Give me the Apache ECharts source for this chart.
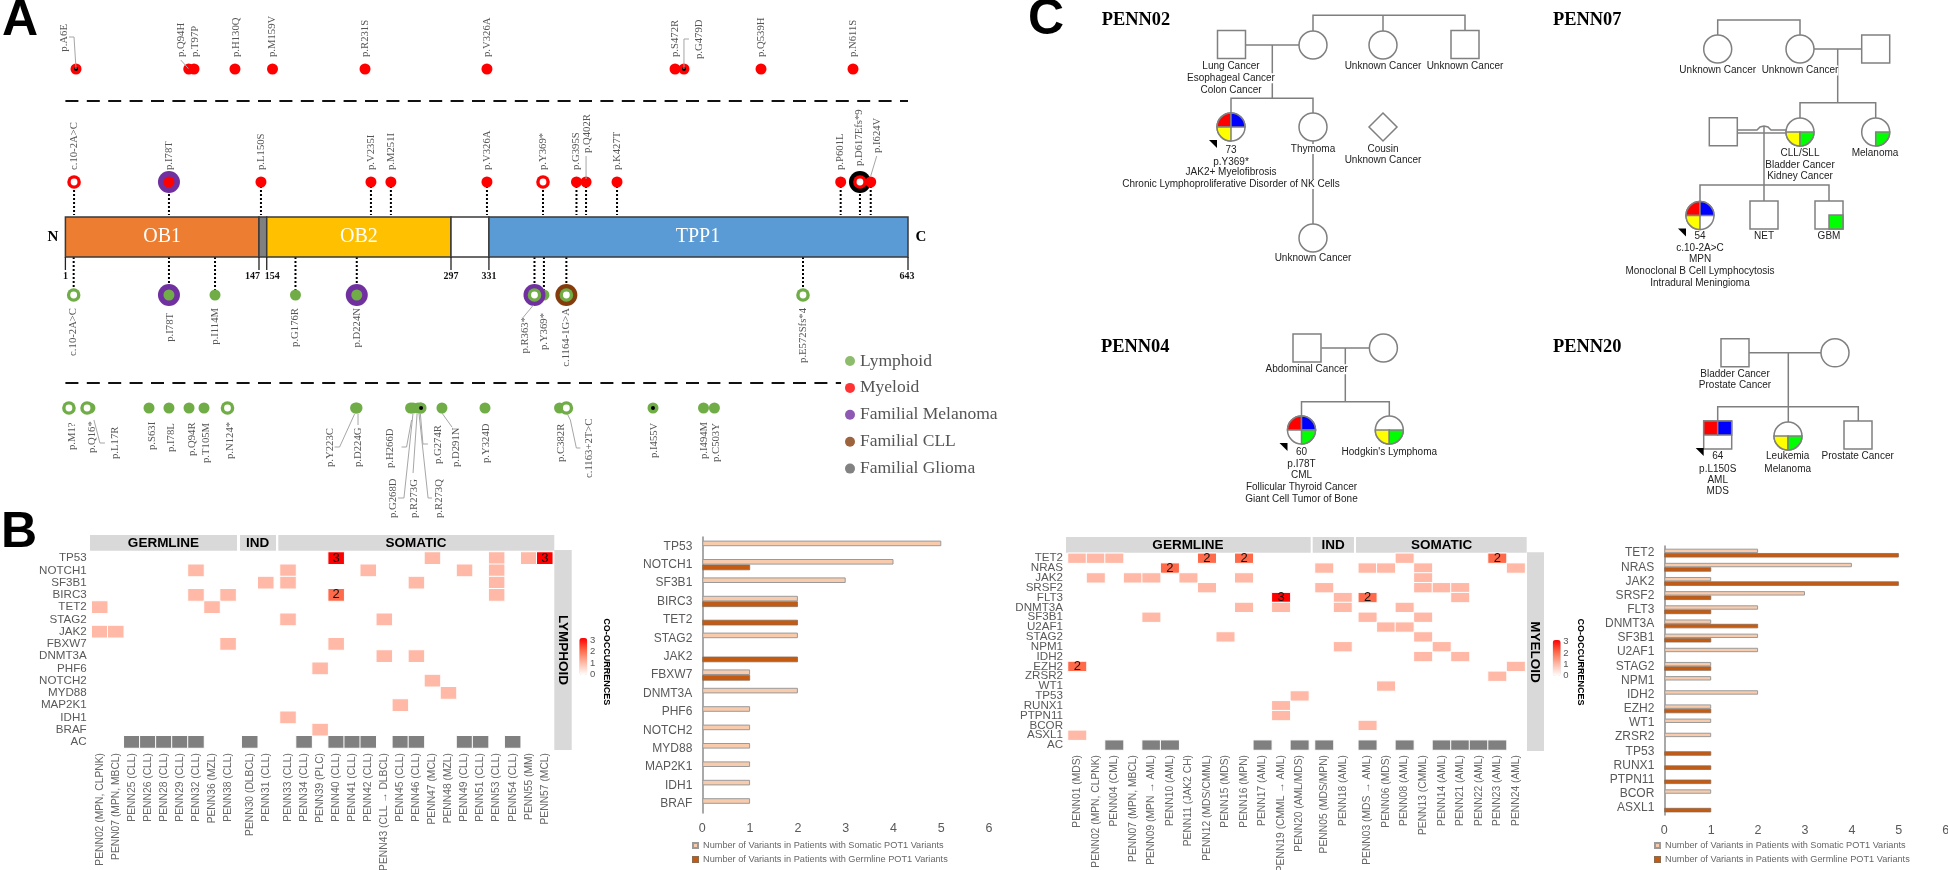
<!DOCTYPE html>
<html>
<head>
<meta charset="utf-8">
<style>html,body{margin:0;padding:0;background:#fff}#c{width:1948px;height:870px}</style>
<script src="https://cdn.jsdelivr.net/npm/echarts@6/dist/echarts.min.js"></script>
</head>
<body>
<div id="c"></div>
<script>
/* ---------- Panel A: variants along POT1 (positions, axis 1-643) ---------- */
const variantRows = ['Myeloid somatic', 'Myeloid germline', 'Lymphoid germline', 'Lymphoid somatic'];

const myeloidSomaticNames = ['p.A6E','p.Q94H','p.T97P','p.H130Q','p.M159V','p.R231S','p.V326A','p.S472R','p.G479D','p.Q539H','p.N611S'];
const myeloidSomaticPositions = [9.1,95,99,130.2,158.8,229.3,322.2,465.5,472.3,531,601.1];
const myeloidSomaticKinds = ['core','solid','solid','solid','solid','solid','solid','solid','core','solid','solid'];
const myeloidSomaticHalos = [null,null,null,null,null,null,null,null,null,null,null];

const myeloidGermlineNames = ['c.10-2A>C','p.I78T','p.L150S','p.V235I','p.M251I','p.V326A','p.Y369*','p.G395S','p.Q402R','p.K427T','p.P601L','p.D617Efs*9','p.I624V'];
const myeloidGermlinePositions = [7.6,79.9,150,233.8,249,322.2,364.9,390.4,397.7,421.3,591.7,606.4,614.6];
const myeloidGermlineKinds = ['open','solid','solid','solid','solid','solid','open','solid','solid','solid','solid','open','solid'];
const myeloidGermlineHalos = [null,'melanoma',null,null,null,null,null,null,null,null,null,'black',null];

const lymphoidGermlineNames = ['c.10-2A>C','p.I78T','p.I114M','p.G176R','p.D224N','p.Y369*','p.R363*','c.1164-1G>A','p.E572Sfs*4'];
const lymphoidGermlinePositions = [7.3,79.9,115,176.3,223,365.6,358.4,382.7,563];
const lymphoidGermlineKinds = ['open','solid','solid','solid','solid','solid','open','open','open'];
const lymphoidGermlineHalos = [null,'melanoma',null,null,'melanoma',null,'melanoma','cll',null];

const lymphoidSomaticNames = ['p.M1?','p.L17R','p.Q16*','p.S63I','p.I78L','p.Q94R','p.T105M','p.N124*','p.Y223C','p.D224G','p.H266D','p.G268D','p.R273G','p.G274R','p.R273Q','p.D291N','p.Y324D','p.C382R','c.1163+2T>C','p.I455V','p.I494M','p.C503Y'];
const lymphoidSomaticPositions = [3.7,19.7,17.5,64.7,79.9,95.2,106.6,124.5,222.1,223.2,264,265.8,269.7,271.5,272,287.9,320.7,377.5,382.7,448.7,487.2,495.5];
const lymphoidSomaticKinds = ['open','solid','open','solid','solid','solid','solid','open','solid','solid','solid','solid','solid','solid','core','solid','solid','solid','open','core','solid','solid'];
const lymphoidSomaticHalos = lymphoidSomaticNames.map(() => null);

const domainNames = ['OB1','','OB2','','TPP1'];
const domainStarts = [1,148.5,154.4,294.8,323.7];
const domainEnds = [148.5,154.4,294.8,323.7,643];
const domainColors = ['#ED7D31','#808080','#FFC000','#FFFFFF','#5B9BD5'];
const domainTickLabels = ['1','147','154','297','331','643'];
const domainTickPositions = [1,148.5,154.4,294.8,323.7,643];
const variantLegendNames = ['Lymphoid','Myeloid','Familial Melanoma','Familial CLL','Familial Glioma'];
const variantLegendColors = ['#70AD47','#FF0000','#7030A0','#843C0C','#636363'];

/* ---------- Panel B: lymphoid heat map ---------- */
const lymphoidGenes = ['TP53','NOTCH1','SF3B1','BIRC3','TET2','STAG2','JAK2','FBXW7','DNMT3A','PHF6','NOTCH2','MYD88','MAP2K1','IDH1','BRAF','AC'];
const lymphoidGermlineSamples = ['PENN02 (MPN, CLPNK)','PENN07 (MPN, MBCL)','PENN25 (CLL)','PENN26 (CLL)','PENN28 (CLL)','PENN29 (CLL)','PENN32 (CLL)','PENN36 (MZL)','PENN38 (CLL)'];
const lymphoidIndSamples = ['PENN30 (DLBCL)','PENN31 (CLL)'];
const lymphoidSomaticSamples = ['PENN33 (CLL)','PENN34 (CLL)','PENN39 (PLC)','PENN40 (CLL)','PENN41 (CLL)','PENN42 (CLL)','PENN43 (CLL \u2192 DLBCL)','PENN45 (CLL)','PENN46 (CLL)','PENN47 (MCL)','PENN48 (MZL)','PENN49 (CLL)','PENN51 (CLL)','PENN53 (CLL)','PENN54 (CLL)','PENN55 (MM)','PENN57 (MCL)'];
const lymphoidGermlineCells = [[6,1,1],[6,3,1],[8,3,1],[0,4,1],[7,4,1],[0,6,1],[1,6,1],[8,7,1]];
const lymphoidIndCells = [[1,2,1]];
const lymphoidSomaticCells = [[3,0,3],[9,0,1],[13,0,1],[15,0,1],[16,0,3],[0,1,1],[5,1,1],[11,1,1],[13,1,1],[0,2,1],[8,2,1],[13,2,1],[3,3,2],[13,3,1],[0,5,1],[6,5,1],[3,7,1],[6,8,1],[8,8,1],[2,9,1],[9,10,1],[10,11,1],[7,12,1],[0,13,1],[2,14,1]];
const lymphoidGermlineAC = [2,3,4,5,6];
const lymphoidIndAC = [0];
const lymphoidSomaticAC = [1,3,4,5,7,8,11,12,14];

/* ---------- Panel B: lymphoid bars ---------- */
const lymphoidBarGenes = ['TP53','NOTCH1','SF3B1','BIRC3','TET2','STAG2','JAK2','FBXW7','DNMT3A','PHF6','NOTCH2','MYD88','MAP2K1','IDH1','BRAF'];
const lymphoidBarSomatic = [5,4,3,2,null,2,null,1,2,1,1,1,1,1,1];
const lymphoidBarGermline = [null,1,null,2,2,null,2,1,null,null,null,null,null,null,null];

/* ---------- Panel B: myeloid heat map ---------- */
const myeloidGenes = ['TET2','NRAS','JAK2','SRSF2','FLT3','DNMT3A','SF3B1','U2AF1','STAG2','NPM1','IDH2','EZH2','ZRSR2','WT1','TP53','RUNX1','PTPN11','BCOR','ASXL1','AC'];
const myeloidGermlineSamples = ['PENN01 (MDS)','PENN02 (MPN, CLPNK)','PENN04 (CML)','PENN07 (MPN, MBCL)','PENN09 (MPN \u2192 AML)','PENN10 (AML)','PENN11 (JAK2 CH)','PENN12 (MDS/CMML)','PENN15 (MDS)','PENN16 (MPN)','PENN17 (AML)','PENN19 (CMML \u2192 AML)','PENN20 (AML/MDS)'];
const myeloidIndSamples = ['PENN05 (MDS/MPN)','PENN18 (AML)'];
const myeloidSomaticSamples = ['PENN03 (MDS \u2192 AML)','PENN06 (MDS)','PENN08 (AML)','PENN13 (CMML)','PENN14 (AML)','PENN21 (AML)','PENN22 (AML)','PENN23 (AML)','PENN24 (AML)'];
const myeloidGermlineCells = [[0,0,1],[1,0,1],[2,0,1],[7,0,2],[9,0,2],[5,1,2],[1,2,1],[3,2,1],[4,2,1],[6,2,1],[9,2,1],[7,3,1],[11,4,3],[9,5,1],[11,5,1],[4,6,1],[8,8,1],[0,11,2],[12,14,1],[11,15,1],[11,16,1],[0,18,1]];
const myeloidIndCells = [[0,1,1],[0,3,1],[1,4,1],[1,5,1],[1,9,1]];
const myeloidSomaticCells = [[2,0,1],[7,0,2],[0,1,1],[1,1,1],[3,1,1],[8,1,1],[3,2,1],[3,3,1],[4,3,1],[5,3,1],[0,4,2],[5,4,1],[2,5,1],[0,6,1],[3,6,1],[1,7,1],[2,7,1],[3,8,1],[4,9,1],[3,10,1],[5,10,1],[8,11,1],[7,12,1],[1,13,1],[0,17,1]];
const myeloidGermlineAC = [2,4,5,10,12];
const myeloidIndAC = [0];
const myeloidSomaticAC = [0,2,4,5,6,7];

/* ---------- Panel B: myeloid bars ---------- */
const myeloidBarGenes = ['TET2','NRAS','JAK2','SRSF2','FLT3','DNMT3A','SF3B1','U2AF1','STAG2','NPM1','IDH2','EZH2','WT1','ZRSR2','TP53','RUNX1','PTPN11','BCOR','ASXL1'];
const myeloidBarSomatic = [2,4,1,3,2,1,2,2,1,1,2,1,1,1,null,null,null,1,null];
const myeloidBarGermline = [5,1,5,1,1,2,1,null,1,null,null,1,null,null,1,1,1,null,1];
const barSomaticName = 'Number of Variants in Patients with Somatic POT1 Variants';
const barGermlineName = 'Number of Variants in Patients with Germline POT1 Variants';

/* ---------- Panel C: pedigrees, on a drawing plane ---------- */
const pedigreeTitles = ['PENN02','PENN07','PENN04','PENN20'];
const pedigreeLinks = [
 [[1245,45],[1299,45]],[[1313,31],[1313,15.3],[1465,15.3],[1465,31]],[[1383,15.3],[1383,31]],[[1272.3,45],[1272.3,98.3]],[[1231,113],[1231,98.3],[1313,98.3],[1313,113]],[[1313,141],[1313,224]],
 [[1717.7,35],[1717.7,20],[1800,20],[1800,35]],[[1814,48.9],[1861.7,48.9]],[[1837.7,48.9],[1837.7,102.8]],[[1800,118],[1800,102.8],[1875.7,102.8],[1875.7,118]],
 [[1737.3,130],[1757,130],[1760,127],[1764,126],[1768,127],[1771,130],[1786,130]],[[1737.3,133],[1786,133]],[[1764,126],[1764,201]],[[1700,201],[1700,185],[1829,185],[1829,201]],
 [[1321.4,348],[1369.4,348]],[[1345.3,348],[1345.3,401.7]],[[1301.5,416],[1301.5,401.7],[1389.3,401.7],[1389.3,416]],
 [[1749,352.8],[1821,352.8]],[[1788.3,352.8],[1788.3,422]],[[1717.7,421],[1717.7,406.7],[1858.3,406.7],[1858.3,421]]
];
const pedigreeNodes = [
 [1231.5,44.5,'s',''],[1313,45,'c',''],[1383,45,'c',''],[1465,44.5,'s',''],[1231,127,'c','RBY-','p'],[1313,127,'c',''],[1383,127,'d',''],[1313,238,'c',''],
 [1717.7,49,'c',''],[1800,49,'c',''],[1875.7,49,'s',''],[1723.3,131.7,'s',''],[1800,132,'c','--YG'],[1875.7,132,'c','---G'],[1700,215.5,'c','RBY-','p'],[1764,215,'s',''],[1829,215,'s','---G'],
 [1307,348,'s',''],[1383.4,348,'c',''],[1301.5,430,'c','RB-G','p'],[1389.3,430,'c','--YG'],
 [1735,352.8,'s',''],[1835,352.8,'c',''],[1717.7,435,'s','RB--','p'],[1788,436,'c','--YG'],[1858,435,'s','']
];
const pedigreeLabels = [
 [1231,66.7,'Lung Cancer'],[1231,78.3,'Esophageal Cancer'],[1231,90,'Colon Cancer'],[1383,66.7,'Unknown Cancer'],[1465,66.7,'Unknown Cancer'],
 [1231,150,'73'],[1231,162,'p.Y369*'],[1231,172.7,'JAK2+ Myelofibrosis'],[1231,184,'Chronic Lymphoproliferative Disorder of NK Cells'],[1313,149,'Thymoma'],[1383,149,'Cousin'],[1383,160.7,'Unknown Cancer'],[1313,258,'Unknown Cancer'],
 [1717.7,70.5,'Unknown Cancer'],[1800,70.5,'Unknown Cancer'],[1800,153.3,'CLL/SLL'],[1800,165,'Bladder Cancer'],[1800,176.7,'Kidney Cancer'],[1875,153.3,'Melanoma'],
 [1700,236,'54'],[1700,247.8,'c.10-2A>C'],[1700,259.4,'MPN'],[1700,271,'Monoclonal B Cell Lymphocytosis'],[1700,282.8,'Intradural Meningioma'],[1764,236,'NET'],[1829,236,'GBM'],
 [1306.7,369.3,'Abdominal Cancer'],[1301.5,452.3,'60'],[1301.5,464,'p.I78T'],[1301.5,475.7,'CML'],[1301.5,487.3,'Follicular Thyroid Cancer'],[1301.5,499,'Giant Cell Tumor of Bone'],[1389.3,452.3,"Hodgkin's Lymphoma"],
 [1735,374,'Bladder Cancer'],[1735,385.6,'Prostate Cancer'],[1717.7,456.7,'64'],[1717.7,469,'p.L150S'],[1717.7,480.6,'AML'],[1717.7,491.7,'MDS'],[1787.7,456.7,'Leukemia'],[1787.7,469,'Melanoma'],[1857.7,456.7,'Prostate Cancer']
];

/* ---------- Layout and style, kept apart from the data ---------- */
const SERIF = '"Liberation Serif"', SANS = '"Liberation Sans"';
const haloColors = {melanoma:'#7030A0', cll:'#843C0C', black:'#000000'};
const quadColors = {R:'#FF0000', B:'#0000FF', Y:'#FFFF00', G:'#00FF00'};
// label placement relative to the dot: [dx, dy, leader points]
const nudgeRow0 = {0:[-12,-17.3,[[0,0],[-2,-32],[-7,-32]]],1:[-8,-12,[[0,0],[-8,-9]]],2:[1,-12],3:[1,-12],8:[15,-10,[[0,0],[0,-30],[5,-30]]]};
const nudgeRow1 = {8:[1,-29,[[0,-3],[0,-26]]],11:[-1,-16],12:[6,-29,[[0,-6],[6,-26]]]};
const nudgeRow2 = {1:[1,18],5:[0,18],6:[-9.5,22,[[-1,10],[-11,22]]]};
const nudgeRow3 = {0:[3,42],1:[25,51,[[4,12],[10,35],[15,35]]],2:[5,45],3:[3,42],4:[2,44],5:[3,48],6:[2,55],7:[2.5,51],
 8:[-25.6,59,[[-1,6],[-16,39],[-21,39]]],9:[1,59,[[1,6],[1,17]]],10:[-20,60,[[1,12],[-4,39],[-9,39]]],11:[-20,110,[[0,6],[-9,90],[-15,90]]],
 12:[-3.5,110,[[-1,6],[-5,65]]],13:[17.5,56,[[0,6],[2.5,36],[7.5,36]]],14:[18.5,110,[[-2,6],[7,90],[11,90]]],15:[14.7,59,[[0,5],[10,19]]],16:[1.7,55],
 17:[2,54],18:[22.6,70,[[1,6],[4,12],[10,40],[14,40]]],19:[1,50],20:[.5,51],21:[1.6,54]};

const series = [], grid = [], xAxis = [], yAxis = [], visualMap = [];
const gridBox = (o) => ({...o, containLabel:false, outerBoundsMode:'none'});

/* lollipop grid */
grid.push(gridBox({left:65.4, width:842.6, top:12.5, height:452}));
xAxis.push({type:'value', min:1, max:643, show:false});
yAxis.push({type:'category', data:variantRows, inverse:true, show:false});

function variantSeries(row, names, positions, kinds, halos, nudge, colour, stem, dyDefault, align) {
  return {
    type:'custom', name:variantRows[row], coordinateSystem:'cartesian2d', xAxisIndex:0, yAxisIndex:0, silent:true, clip:false,
    data:positions.map((p) => [p]),
    renderItem(params, api) {
      const i = params.dataIndex, c = api.coord([api.value(0), row]), kids = [];
      if (stem) kids.push({type:'line', shape:{x1:c[0],y1:c[1],x2:c[0],y2:c[1]+stem}, style:{stroke:'#000',lineWidth:2,lineDash:[2,2]}});
      if (halos[i]) kids.push({type:'circle', shape:{cx:c[0],cy:c[1],r:11}, style:{fill:haloColors[halos[i]]}});
      const open = kinds[i] === 'open';
      kids.push({type:'circle', shape:{cx:c[0],cy:c[1],r:open?6.8:5.5}, style:{fill:colour}});
      if (open) kids.push({type:'circle', shape:{cx:c[0],cy:c[1],r:3.4}, style:{fill:'#fff'}});
      if (kinds[i] === 'core') kids.push({type:'circle', shape:{cx:c[0],cy:c[1],r:2}, style:{fill:'#000'}});
      const n = nudge[i] || [0, dyDefault];
      if (n[2]) kids.push({type:'polyline', shape:{points:n[2].map((q) => [c[0]+q[0], c[1]+q[1]])}, style:{stroke:'#A6A6A6',lineWidth:1,fill:null}});
      kids.push({type:'text', x:c[0]+n[0], y:c[1]+n[1], rotation:Math.PI/2,
        style:{text:names[i], align:align, verticalAlign:'middle', fill:'#555', font:'10.7px '+SERIF}});
      return {type:'group', children:kids};
    }
  };
}
series.push(variantSeries(0,myeloidSomaticNames,myeloidSomaticPositions,myeloidSomaticKinds,myeloidSomaticHalos,nudgeRow0,'#FF0000',0,-12,'left'));
series.push(variantSeries(1,myeloidGermlineNames,myeloidGermlinePositions,myeloidGermlineKinds,myeloidGermlineHalos,nudgeRow1,'#FF0000',33,-12,'left'));
series.push(variantSeries(2,lymphoidGermlineNames,lymphoidGermlinePositions,lymphoidGermlineKinds,lymphoidGermlineHalos,nudgeRow2,'#70AD47',-38,13,'right'));
series.push(variantSeries(3,lymphoidSomaticNames,lymphoidSomaticPositions,lymphoidSomaticKinds,lymphoidSomaticHalos,nudgeRow3,'#70AD47',0,42,'left'));

/* protein bar */
series.push({type:'custom', xAxisIndex:0, yAxisIndex:0, silent:true, clip:false, data:domainStarts.map((s,i)=>[s,domainEnds[i]]),
  renderItem(params, api) {
    const i = params.dataIndex, a = api.coord([api.value(0),1]), b = api.coord([api.value(1),1]);
    const top = a[1]+35, h = 40, kids = [{type:'rect', shape:{x:a[0],y:top,width:b[0]-a[0],height:h}, style:{fill:domainColors[i],stroke:'#3A3A3A',lineWidth:1.5}}];
    if (domainNames[i]) kids.push({type:'text', x:(i===4? a[0]+209 : (a[0]+b[0])/2), y:top+20, style:{text:domainNames[i],align:'center',verticalAlign:'middle',fill:'#fff',font:'20px '+SERIF}});
    return {type:'group', children:kids};
  }});
/* protein ticks */
const tickLabelShift = [0,-6.5,5.5,0,0,-1];
series.push({type:'custom', xAxisIndex:0, yAxisIndex:0, silent:true, clip:false, data:domainTickPositions.map((p)=>[p]),
  renderItem(params, api) {
    const i = params.dataIndex, a = api.coord([api.value(0),1]), y = a[1]+75;
    return {type:'group', children:[
      {type:'line', shape:{x1:a[0],y1:y,x2:a[0],y2:y+13}, style:{stroke:'#222',lineWidth:1.3}},
      {type:'text', x:a[0]+tickLabelShift[i], y:y+19, style:{text:domainTickLabels[i],align:'center',verticalAlign:'middle',fill:'#111',font:'bold 10px '+SERIF}}
    ]};
  }});
/* dashed separators, anchored on the outer rows */
series.push({type:'custom', xAxisIndex:0, yAxisIndex:0, silent:true, clip:false, data:[[1,0,32,643],[1,3,-25,592]],
  renderItem(params, api) {
    const a = api.coord([1, api.value(1)]), b = api.coord([api.value(3), api.value(1)]), y = a[1]+api.value(2);
    return {type:'line', shape:{x1:a[0],y1:y,x2:b[0],y2:y}, style:{stroke:'#111',lineWidth:2.2,lineDash:[13,8.4]}};
  }});
/* legend entries for panel A */
variantLegendNames.forEach((n,i)=>series.push({type:'scatter', name:n, xAxisIndex:0, yAxisIndex:0, data:[], itemStyle:{color:variantLegendColors[i]}}));

/* heat maps */
function heatGroup(genes, samples, cells, ac, left, width, top, height, showGenes, indices) {
  const g = grid.length;
  grid.push(gridBox({left, width, top, height}));
  xAxis.push({type:'category', gridIndex:g, data:samples, position:'bottom', axisLine:{show:false}, axisTick:{show:false}, splitLine:{show:false},
    axisLabel:{interval:0, rotate:90, margin:5, fontSize:10.3, color:'#666', fontFamily:SANS}});
  yAxis.push({type:'category', gridIndex:g, data:genes, inverse:true, axisLine:{show:false}, axisTick:{show:false}, splitLine:{show:false},
    axisLabel:{show:showGenes, interval:0, margin:5, fontSize:11.6, color:'#595959', fontFamily:SANS}});
  indices.push(series.length);
  series.push({type:'heatmap', xAxisIndex:g, yAxisIndex:g, silent:true, data:cells, itemStyle:{borderColor:'#fff',borderWidth:1},
    label:{show:true, fontFamily:SANS, fontSize:13, color:'#111', formatter:(p)=>p.value[2]>=2?String(p.value[2]):''}});
  const acRow = genes.length - 1;
  series.push({type:'heatmap', xAxisIndex:g, yAxisIndex:g, silent:true, data:ac.map((c)=>[c,acRow,1]), itemStyle:{color:'#808080',borderColor:'#fff',borderWidth:1}});
}
const lymphoidHeat = [], myeloidHeat = [];
heatGroup(lymphoidGenes,lymphoidGermlineSamples,lymphoidGermlineCells,lymphoidGermlineAC,91.7,144.4,552,196,true,lymphoidHeat);
heatGroup(lymphoidGenes,lymphoidIndSamples,lymphoidIndCells,lymphoidIndAC,241.7,32.1,552,196,false,lymphoidHeat);
heatGroup(lymphoidGenes,lymphoidSomaticSamples,lymphoidSomaticCells,lymphoidSomaticAC,280,272.8,552,196,false,lymphoidHeat);
heatGroup(myeloidGenes,myeloidGermlineSamples,myeloidGermlineCells,myeloidGermlineAC,1068,240.9,553.3,196.7,true,myeloidHeat);
heatGroup(myeloidGenes,myeloidIndSamples,myeloidIndCells,myeloidIndAC,1315,37,553.3,196.7,false,myeloidHeat);
heatGroup(myeloidGenes,myeloidSomaticSamples,myeloidSomaticCells,myeloidSomaticAC,1358.3,166.8,553.3,196.7,false,myeloidHeat);
const heatRamp = ['#FFFFFF','#FFB9A6','#FF6A4A','#FF0000'];
visualMap.push({type:'continuous',min:0,max:3,seriesIndex:lymphoidHeat,left:579.3,top:638,padding:0,itemWidth:8,itemHeight:37,text:null,calculable:false,inRange:{color:heatRamp},hoverLink:false});
visualMap.push({type:'continuous',min:0,max:3,seriesIndex:myeloidHeat,left:1552.7,top:640,padding:0,itemWidth:8,itemHeight:36,text:null,calculable:false,inRange:{color:heatRamp},hoverLink:false});

/* bar charts */
function barPanel(genes, som, ger, left, width, top, height, barW, labelPad, fontSize) {
  const g = grid.length;
  grid.push(gridBox({left, width, top, height}));
  xAxis.push({type:'value', gridIndex:g, min:0, max:6, interval:1, axisLine:{show:false}, axisTick:{show:false}, splitLine:{show:false},
    axisLabel:{margin:9, fontSize:12.5, color:'#595959', fontFamily:SANS}});
  yAxis.push({type:'category', gridIndex:g, data:genes, inverse:true, axisLine:{show:true, lineStyle:{color:'#8C8C8C',width:1.5}}, axisTick:{show:false},
    axisLabel:{interval:0, margin:10, fontSize, color:'#595959', fontFamily:SANS, padding:labelPad}});
  const base = {type:'bar', xAxisIndex:g, yAxisIndex:g, barWidth:barW, barGap:'0%', silent:true};
  series.push({...base, name:barSomaticName, data:som, itemStyle:{color:'#F8CBAD',borderColor:'#9A9A9A',borderWidth:1}});
  series.push({...base, name:barGermlineName, data:ger, itemStyle:{color:'#C55A11',borderColor:'#8C6A50',borderWidth:0.8}});
}
barPanel(lymphoidBarGenes,lymphoidBarSomatic,lymphoidBarGermline,702.3,286.8,537,276,5.6,[0,0,0,0],12);
barPanel(myeloidBarGenes,myeloidBarSomatic,myeloidBarGermline,1664.3,281.4,546,269,4.4,[0,0,6,0],12);

/* pedigree plane */
const plane = grid.length;
grid.push(gridBox({left:0, top:0, width:1948, height:870}));
xAxis.push({type:'value', gridIndex:plane, min:0, max:1948, show:false});
yAxis.push({type:'value', gridIndex:plane, min:0, max:870, inverse:true, show:false});
series.push({type:'custom', xAxisIndex:plane, yAxisIndex:plane, silent:true, clip:false, data:pedigreeLinks.map((l,i)=>[i]),
  renderItem(params, api) {
    return {type:'polyline', shape:{points:pedigreeLinks[params.dataIndex].map((p)=>api.coord(p))}, style:{stroke:'#7F7F7F',lineWidth:1.5,fill:null}};
  }});
series.push({type:'custom', xAxisIndex:plane, yAxisIndex:plane, silent:true, clip:false, data:pedigreeLabels.map((l,i)=>[l[0],l[1]]),
  renderItem(params, api) {
    const c = api.coord([api.value(0),api.value(1)]);
    return {type:'text', x:c[0], y:c[1], style:{text:pedigreeLabels[params.dataIndex][2],align:'center',verticalAlign:'middle',fill:'#222',font:'10px '+SANS,backgroundColor:'#fff'}};
  }});
series.push({type:'custom', xAxisIndex:plane, yAxisIndex:plane, silent:true, clip:false, data:pedigreeNodes.map((n)=>[n[0],n[1]]),
  renderItem(params, api) {
    const n = pedigreeNodes[params.dataIndex], c = api.coord([api.value(0),api.value(1)]), r = 14, kids = [];
    const edge = {stroke:'#808080',lineWidth:1.5}, x = c[0], y = c[1];
    if (n[2]==='c') kids.push({type:'circle',shape:{cx:x,cy:y,r},style:{fill:'#fff',...edge}});
    if (n[2]==='s') kids.push({type:'rect',shape:{x:x-r,y:y-r,width:2*r,height:2*r},style:{fill:'#fff',...edge}});
    if (n[2]==='d') kids.push({type:'polygon',shape:{points:[[x,y-r],[x+r,y],[x,y+r],[x-r,y]]},style:{fill:'#fff',...edge}});
    const quads = [[Math.PI,1.5*Math.PI,-1,-1],[1.5*Math.PI,2*Math.PI,0,-1],[.5*Math.PI,Math.PI,-1,0],[0,.5*Math.PI,0,0]];
    [...n[3]].forEach((q,i)=>{
      if (q==='-') return;
      const f = quads[i];
      if (n[2]==='c') kids.push({type:'sector',shape:{cx:x,cy:y,r,r0:0,startAngle:f[0],endAngle:f[1]},style:{fill:quadColors[q],...edge}});
      else kids.push({type:'rect',shape:{x:x+f[2]*r,y:y+f[3]*r,width:r,height:r},style:{fill:quadColors[q],...edge}});
    });
    if (n[4]==='p') kids.push({type:'polygon',shape:{points:[[x-22,y+13],[x-14,y+13],[x-14,y+21]]},style:{fill:'#000'}});
    return {type:'group',children:kids};
  }});

/* decorations: panel letters, strips, colour-bar captions */
const strip = (x,y,w,h)=>({type:'rect',shape:{x,y,width:w,height:h},style:{fill:'#D9D9D9'},z:1});
const txt = (x,y,text,font,fill,rotation,align)=>({type:'text',x,y,rotation:rotation||0,z:5,style:{text,font,fill:fill||'#000',align:align||'center',verticalAlign:'middle'}});
const headFont = 'bold 13.5px '+SANS, tinyBold = 'bold 9px '+SANS, tiny = '9.5px '+SANS;
const decor = [
  txt(20,21,'A','bold 50px '+SANS), txt(19,533,'B','bold 50px '+SANS), txt(1046,20,'C','bold 50px '+SANS),
  txt(53,237,'N','bold 15px '+SERIF), txt(921,237,'C','bold 15px '+SERIF),
  strip(90,535,147,15.7), strip(240,535,36,15.7), strip(278.3,535,276,15.7), strip(554.3,550,17.4,200),
  txt(163.5,543,'GERMLINE',headFont), txt(257.7,543,'IND',headFont), txt(416,543,'SOMATIC',headFont),
  txt(563,650,'LYMPHOID',headFont,'#000',-Math.PI/2),
  txt(592.7,640,'3',tiny,'#555'),txt(592.7,651.7,'2',tiny,'#555'),txt(592.7,663,'1',tiny,'#555'),txt(592.7,674,'0',tiny,'#555'),
  txt(606.7,661.7,'CO-OCCURRENCES',tinyBold,'#000',-Math.PI/2),
  strip(1066,537,244.7,15.7), strip(1312.7,537,41.3,15.7), strip(1356,537,170.7,15.7), strip(1527,552.3,17,198.7),
  txt(1188,545,'GERMLINE',headFont), txt(1333,545,'IND',headFont), txt(1441.7,545,'SOMATIC',headFont),
  txt(1535,652,'MYELOID',headFont,'#000',-Math.PI/2),
  txt(1566,641.7,'3',tiny,'#555'),txt(1566,653,'2',tiny,'#555'),txt(1566,664,'1',tiny,'#555'),txt(1566,675,'0',tiny,'#555'),
  txt(1580,662,'CO-OCCURRENCES',tinyBold,'#000',-Math.PI/2)
];
const titleSpots = [[1101.7,20.7],[1553,20.5],[1101,347],[1553,347]];
pedigreeTitles.forEach((t,i)=>decor.push(txt(titleSpots[i][0],titleSpots[i][1],t,'bold 18.4px '+SERIF,'#000',0,'left')));

const barLegend = (left)=>({show:true, orient:'vertical', left, top:841, padding:0, itemGap:5, itemWidth:5, itemHeight:5, icon:'rect',
  data:[barSomaticName,barGermlineName], selectedMode:false, textStyle:{fontFamily:SANS,fontSize:9.2,color:'#666'}});

const chart = echarts.init(document.getElementById('c'), null, {renderer:'canvas'});
chart.setOption({
  animation:false, backgroundColor:'#fff', tooltip:{show:false},
  grid, xAxis, yAxis, visualMap, series,
  legend:[
    {orient:'vertical', left:845, top:352, padding:0, itemGap:8.9, itemWidth:10, itemHeight:10, icon:'circle', selectedMode:false,
      data:variantLegendNames, textStyle:{fontFamily:SERIF,fontSize:17.5,color:'#555'}},
    barLegend(692), barLegend(1654)
  ],
  graphic:{elements:decor}
});
</script>
</body>
</html>
